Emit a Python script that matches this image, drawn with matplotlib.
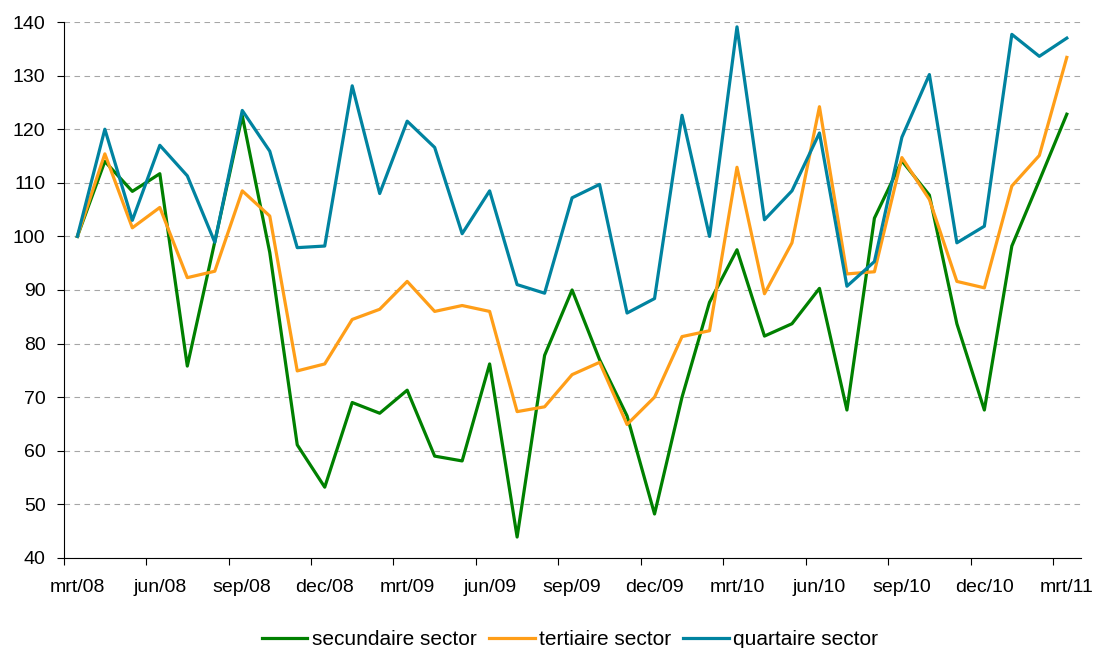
import matplotlib.pyplot as plt
import numpy as np

# months mrt/08 .. mrt/11 (37 points), labels every 3 months
tick_labels = ["mrt/08", "jun/08", "sep/08", "dec/08", "mrt/09", "jun/09", "sep/09",
               "dec/09", "mrt/10", "jun/10", "sep/10", "dec/10", "mrt/11"]

secundaire = [100, 114, 108.4, 111.7, 75.8, 99, 122.5, 97, 61.1, 53.2, 69, 67, 71.3,
              59, 58.1, 76.2, 43.9, 77.8, 90, 77, 66.5, 48.2, 70, 87.7, 97.5,
              81.4, 83.7, 90.3, 67.6, 103.4, 114.1, 107.7, 83.7, 67.6, 98.2, 110.4, 122.8]
tertiaire = [100, 115.4, 101.6, 105.4, 92.3, 93.5, 108.5, 103.8, 74.9, 76.2, 84.5, 86.4, 91.6,
             86, 87.1, 86, 67.3, 68.2, 74.2, 76.5, 64.9, 70, 81.3, 82.4, 112.9,
             89.3, 98.8, 124.2, 93, 93.4, 114.7, 106.9, 91.6, 90.4, 109.4, 115.1, 133.4]
quartaire = [100, 120, 103, 117, 111.3, 98.9, 123.5, 115.9, 97.9, 98.2, 128.1, 108, 121.5,
             116.6, 100.5, 108.5, 91, 89.4, 107.2, 109.7, 85.7, 88.4, 122.6, 100, 139.1,
             103.1, 108.5, 119.3, 90.7, 95.3, 118.5, 130.2, 98.8, 101.9, 137.7, 133.6, 137]

plt.rcParams['font.family'] = ['Liberation Sans', 'DejaVu Sans']

fig = plt.figure(figsize=(10.97, 6.48), dpi=100)
ax = fig.add_axes([0.058, 0.139, 0.927, 0.827])

x = np.arange(len(secundaire))
ax.plot(x, secundaire, color="#008000", lw=2.3, label="secundaire sector")
ax.plot(x, tertiaire, color="#FF9E18", lw=2.3, label="tertiaire sector")
ax.plot(x, quartaire, color="#0083A0", lw=2.3, label="quartaire sector")

ax.set_xlim(-0.5, len(x) - 0.5)
ax.set_ylim(40, 140)
ax.set_yticks(np.arange(40, 141, 10))
ax.set_xticks(np.arange(0, len(x), 3))
ax.set_xticklabels(tick_labels)
ax.set_xticks(np.arange(-0.5, len(x) - 1, 3), minor=True)
ax.tick_params(axis="x", which="major", length=0, pad=15, labelsize=14)
ax.tick_params(axis="x", which="minor", length=5, width=0.8, direction="out")
ax.tick_params(axis="y", length=5, width=0.8, labelsize=14, pad=8)

ax.grid(axis="y", color="#a6a6a6", linestyle=(0, (5, 4)), lw=0.8)
ax.set_axisbelow(True)
for s in ["top", "right"]:
    ax.spines[s].set_visible(False)
for s in ["left", "bottom"]:
    ax.spines[s].set_linewidth(0.8)

ax.legend(loc="upper center", bbox_to_anchor=(0.498, -0.1), ncol=3, frameon=False,
          fontsize=15, handlelength=2.2, handletextpad=0.2, columnspacing=0.6)

fig.savefig("out.png", dpi=100)
